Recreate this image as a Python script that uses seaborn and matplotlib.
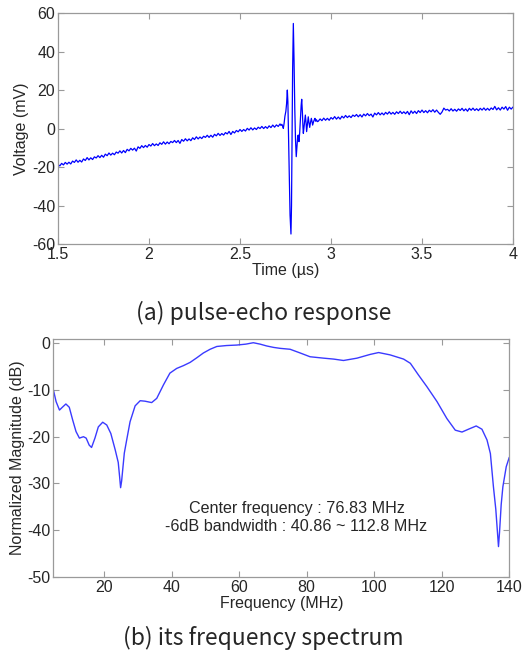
import numpy as np
import matplotlib
matplotlib.use("Agg")
import matplotlib.pyplot as plt
import seaborn as sns
from matplotlib.ticker import FormatStrFormatter

# ---- (a) pulse-echo response ----
# baseline before the echo, sampled every 0.01 us from 1.50 to 2.72
pre_time = np.round(np.arange(1.50, 2.725, 0.01), 3)
pre_volt = [
    -18.7, -19.4, -18.1, -18.9, -17.6, -18.5, -17.5, -18.4, -16.9, -17.6,
    -16.3, -17.5, -16.5, -17.4, -15.8, -16.6, -15.1, -16.3, -15.2, -16.1,
    -14.7, -15.3, -14.1, -15.1, -13.9, -14.9, -13.3, -14.1, -12.7, -13.8,
    -12.8, -13.6, -12.2, -12.8, -11.6, -12.7, -11.4, -12.5, -10.8, -11.6,
    -10.3, -11.2, -10.2, -11.7, -9.5, -10.3, -8.9, -9.9, -8.8, -9.7,
    -8.3, -9.1, -7.8, -8.9, -8.0, -8.8, -7.4, -8.2, -6.9, -8.1,
    -7.0, -7.9, -6.7, -7.3, -6.2, -7.3, -6.2, -7.7, -5.7, -6.6,
    -5.3, -6.4, -5.4, -6.3, -4.8, -5.7, -4.3, -5.4, -4.4, -5.2,
    -4.0, -4.6, -3.5, -4.6, -3.5, -4.5, -3.0, -3.8, -2.5, -3.6,
    -2.6, -3.4, -2.1, -2.8, -1.5, -3.1, -1.5, -2.3, -1.0, -1.7,
    -0.5, -1.5, -0.5, -1.3, 0.1, -0.8, 0.4, -0.7, 0.3, -0.5,
    0.7, 0.0, 1.1, 0.0, 1.0, 0.1, 1.4, 0.5, 1.8, 0.7,
    1.9, 1.1, 2.4,
]

# the echo itself
pulse_time = [
    2.725, 2.730, 2.735, 2.738, 2.742, 2.747, 2.752, 2.756, 2.760, 2.763,
    2.767, 2.771, 2.775, 2.780, 2.783, 2.786, 2.789, 2.793, 2.797, 2.801,
    2.805, 2.809, 2.813, 2.817, 2.820, 2.824, 2.828, 2.832, 2.836, 2.839,
    2.843, 2.846, 2.848, 2.852, 2.856, 2.859, 2.863, 2.866, 2.870, 2.875,
    2.879, 2.883, 2.887, 2.892, 2.896, 2.899, 2.904, 2.908, 2.912, 2.916,
    2.920, 2.925,
]
pulse_volt = [
    1.6, 2.2, 1.0, 0.1, 2.5, 6.5, 9.0, 13.0, 20.0, 14.0,
    -5.0, -25.0, -45.0, -54.8, -40.0, -5.0, 30.0, 54.6, 35.0, 10.0,
    -6.0, -14.6, -9.0, -4.0, -3.4, -6.8, -2.0, 5.0, 12.0, 15.2,
    8.0, 0.5, -2.5, 1.0, 5.0, 7.0, 3.0, -1.6, 2.0, 6.1,
    3.0, 0.6, 3.0, 5.3, 3.5, 1.8, 3.5, 4.5, 5.3, 3.8,
    4.6, 3.6,
]

# tail after the echo, every 0.01 us from 2.93 to 4.00
post_time = np.round(np.arange(2.93, 4.005, 0.01), 3)
post_volt = [
    3.8, 5.0, 4.1, 5.4, 4.3, 5.3, 4.3, 5.7, 4.9, 6.2,
    4.9, 6.0, 4.9, 6.4, 5.5, 6.8, 5.7, 6.6, 5.7, 7.0,
    6.3, 7.3, 6.1, 7.2, 6.0, 7.5, 6.6, 7.8, 6.7, 7.5,
    6.0, 8.0, 7.1, 8.3, 7.1, 8.1, 7.1, 8.4, 7.5, 8.7,
    7.5, 8.4, 7.4, 8.7, 7.8, 9.0, 7.8, 8.7, 7.7, 8.9,
    7.2, 9.2, 7.9, 9.0, 7.8, 9.3, 8.3, 9.6, 8.3, 9.3,
    8.2, 9.5, 8.7, 9.8, 8.5, 9.6, 8.4, 7.4, 8.6, 10.6,
    9.6, 10.0, 9.1, 10.3, 9.1, 10.0, 9.0, 10.2, 9.4, 10.5,
    9.2, 10.2, 9.0, 10.5, 9.5, 10.6, 9.4, 10.3, 9.3, 10.5,
    9.6, 10.7, 9.5, 10.5, 9.5, 10.7, 9.9, 11.5, 9.7, 10.8,
    9.6, 11.1, 10.1, 11.4, 9.5, 11.1, 10.1, 11.2,
]

time_us = list(pre_time) + pulse_time + list(post_time)
voltage_mv = pre_volt + pulse_volt + post_volt

# ---- (b) frequency spectrum ----
freq_mhz = [
    5.0, 5.8, 6.8, 7.8, 8.7, 9.7, 10.7, 11.7, 12.7, 13.9,
    14.7, 15.6, 16.3, 17.3, 18.3, 19.6, 20.8, 22.0, 23.3, 24.2,
    24.6, 24.9, 25.2, 25.6, 26.0, 26.7, 27.7, 29.2, 30.7, 32.1,
    34.1, 35.6, 37.6, 39.5, 41.5, 43.5, 45.5, 47.5, 49.4, 51.4,
    53.4, 56.3, 59.3, 62.0, 64.2, 66.2, 68.2, 70.2, 72.1, 75.1,
    78.1, 81.0, 85.0, 88.0, 90.9, 94.9, 98.8, 101.3, 104.7, 108.7,
    110.7, 113.1, 115.6, 118.6, 121.5, 124.0, 126.0, 127.9, 130.2, 131.9,
    133.4, 134.4, 135.3, 136.0, 136.5, 136.8, 137.1, 137.6, 138.1, 139.1,
    140.0,
]
mag_db = [
    -10.0, -12.5, -14.3, -13.6, -13.0, -13.7, -16.4, -18.9, -20.3, -20.0,
    -20.3, -21.8, -22.3, -20.3, -17.9, -16.9, -17.5, -19.3, -22.8, -25.5,
    -28.5, -30.9, -29.5, -26.5, -23.5, -20.7, -16.8, -13.4, -12.3, -12.4,
    -12.7, -11.8, -8.9, -6.4, -5.4, -4.8, -4.1, -3.1, -2.1, -1.3,
    -0.7, -0.5, -0.4, -0.2, 0.1, -0.2, -0.6, -0.9, -1.1, -1.3,
    -2.1, -2.9, -3.2, -3.4, -3.7, -3.2, -2.4, -2.0, -2.5, -3.4,
    -4.3, -6.8, -9.3, -12.5, -16.1, -18.6, -19.0, -18.4, -17.7, -18.4,
    -20.7, -23.6, -30.7, -35.5, -40.5, -43.5, -40.5, -34.5, -30.7, -26.4,
    -24.4,
]

sns.set_style("white")
plt.rcParams["font.family"] = ["Liberation Sans", "DejaVu Sans"]
plt.rcParams["axes.unicode_minus"] = False
plt.rcParams["xtick.direction"] = "in"
plt.rcParams["ytick.direction"] = "in"

fig = plt.figure(figsize=(5.23, 6.53), dpi=100)
ax1 = fig.add_axes([0.1109, 0.6263, 0.870, 0.3537])
ax2 = fig.add_axes([0.1021, 0.1164, 0.8717, 0.3652])

sns.lineplot(x=time_us, y=voltage_mv, ax=ax1, color="#0000ff", lw=0.9,
             estimator=None, sort=False)
sns.lineplot(x=freq_mhz, y=mag_db, ax=ax2, color="#3a3aff", lw=1.0,
             estimator=None, sort=False, solid_joinstyle="round")

ax1.set_xlim(1.5, 4)
ax1.set_ylim(-60, 60)
ax1.set_xticks([1.5, 2, 2.5, 3, 3.5, 4])
ax1.set_yticks([-60, -40, -20, 0, 20, 40, 60])
ax1.xaxis.set_major_formatter(FormatStrFormatter("%g"))
ax1.set_xlabel("Time (\u00b5s)", fontsize=11.5, labelpad=1)
ax1.set_ylabel("Voltage (mV)", fontsize=11.5, labelpad=2)

ax2.set_xlim(5, 140)
ax2.set_ylim(-50, 1)
ax2.set_xticks([20, 40, 60, 80, 100, 120, 140])
ax2.set_yticks([-50, -40, -30, -20, -10, 0])
ax2.set_xlabel("Frequency (MHz)", fontsize=11.5, labelpad=1)
ax2.set_ylabel("Normalized Magnitude (dB)", fontsize=11.5, labelpad=2)
ax2.text(77, -35.3, "Center frequency : 76.83 MHz", ha="center", va="center",
         fontsize=11.6)
ax2.text(77, -39.1, "-6dB bandwidth : 40.86 ~ 112.8 MHz", ha="center",
         va="center", fontsize=11.6)

for ax in (ax1, ax2):
    for sp in ax.spines.values():
        sp.set_color("#9a9a9a")
        sp.set_linewidth(0.9)
    ax.tick_params(axis="both", which="both", direction="in", length=4,
                   width=0.8, color="#9a9a9a", labelsize=11.5, pad=2,
                   top=True, right=True, bottom=True, left=True)

cap_font = ["Noto Sans CJK KR", "DejaVu Sans"]
fig.text(264 / 523, 1 - 313 / 653, "(a) pulse-echo response", ha="center",
         va="center", fontsize=16.5, family=cap_font)
fig.text(263 / 523, 1 - 638 / 653, "(b) its frequency spectrum", ha="center",
         va="center", fontsize=16.5, family=cap_font)

fig.savefig("out.png", dpi=100)
